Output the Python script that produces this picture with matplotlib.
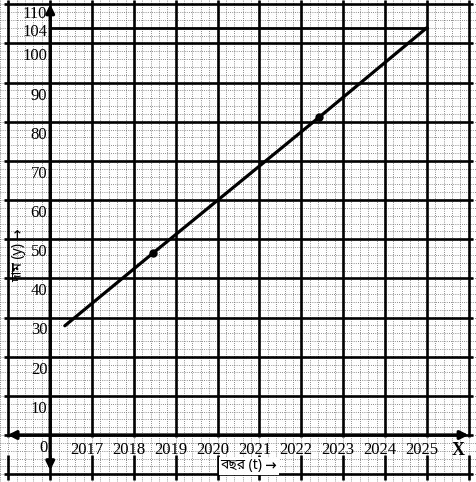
import numpy as np
import matplotlib.pyplot as plt
import matplotlib.font_manager as fm

# --- chart values ---
years = [2017, 2018, 2019, 2020, 2021, 2022, 2023, 2024, 2025]
y_ticks = [0, 10, 20, 30, 40, 50, 60, 70, 80, 90, 100, 104, 110]

line_t = [2016.35, 2018.45, 2022.42, 2025.0]
line_y = [27.9, 46.4, 81.1, 104.0]
dot_t = [2018.45, 2022.42]
dot_y = [46.4, 81.1]
guide_value = 104

x_label = "বছর (t) →"
y_label = "দাম (y) →"

serif = ["Liberation Serif", "DejaVu Serif"]
installed = {f.name for f in fm.fontManager.ttflist}
bengali = [n for n in ["Noto Sans Bengali", "Noto Serif Bengali", "Lohit Bengali",
                       "FreeSerif", "FreeSans", "Mukti Narrow", "Akaash", "Likhan"]
           if n in installed]
mixed = bengali + ["Noto Sans", "DejaVu Sans"]

fig = plt.figure(figsize=(4.77, 4.82), dpi=100)
ax = fig.add_axes([0, 0, 1, 1])
x0, x1 = 2014.9, 2026.1
y0, y1 = -11.6, 111.1
ax.set_xlim(x0, x1)
ax.set_ylim(y0, y1)

# graph paper: dotted fine rulings, heavy major cells
ax.set_xticks(np.arange(2014.8, 2026.2, 0.2), minor=True)
ax.set_yticks(np.arange(-12, 112, 2), minor=True)
ax.grid(which="minor", color="0.4", lw=0.6, ls=(0, (1, 1.6)))
ax.tick_params(which="both", length=0, labelbottom=False, labelleft=False)
ax.set_xticks([])
ax.set_yticks([])
for s in ax.spines.values():
    s.set_visible(False)
ax.set_axisbelow(True)

major_x = np.arange(2015, 2027, 1)
major_y = np.arange(-10, 111, 10)
ax.hlines(major_y, x0, x1, color="black", lw=1.9, zorder=1)
# the tick-label strip under the x axis has no heavy rulings
ax.vlines(major_x, -0.6, y1, color="black", lw=1.9, zorder=1)
ax.vlines(major_x, y0, -5.0, color="black", lw=1.9, zorder=1)

# axes with arrow heads
arrow = dict(arrowstyle="<|-|>", color="black", lw=2.4, mutation_scale=12, shrinkA=0, shrinkB=0)
ax.annotate("", xy=(2014.98, 0), xytext=(2026.0, 0), arrowprops=arrow, zorder=2)
ax.annotate("", xy=(2016, -9.0), xytext=(2016, 110.0), arrowprops=arrow, zorder=2)

# value line and the 104 guide
ax.plot([2016, years[-1]], [guide_value, guide_value], color="black", lw=2.0, zorder=2)
ax.plot(line_t, line_y, color="black", lw=2.3, solid_capstyle="round", zorder=3)
ax.plot(dot_t, dot_y, "o", color="black", ms=5, zorder=3)

# tick labels
for v in y_ticks:
    if v == 110:
        yy = v - 2.5
    elif v == 104:
        yy = v - 1.2
    else:
        yy = v - 3.3
    ax.text(2015.93, yy, str(v), ha="right", va="center", fontsize=12, family=serif, zorder=4)
for yr in years:
    ax.text(yr - 0.12, -3.9, str(yr), ha="center", va="center", fontsize=12, family=serif, zorder=4)
ax.text(2025.74, -3.9, "X", ha="center", va="center", fontsize=13, fontweight="bold",
        family=serif, zorder=4)

# axis titles
ax.text(2020.75, -7.9, x_label, ha="center", va="center", fontsize=10, fontweight="bold",
        family=mixed, bbox=dict(facecolor="white", edgecolor="none", pad=1), zorder=4)
ax.text(2015.25, 46, y_label, ha="center", va="center", rotation=90, fontsize=10,
        fontweight="bold", family=mixed, zorder=4)

fig.savefig("out.png", dpi=100)
